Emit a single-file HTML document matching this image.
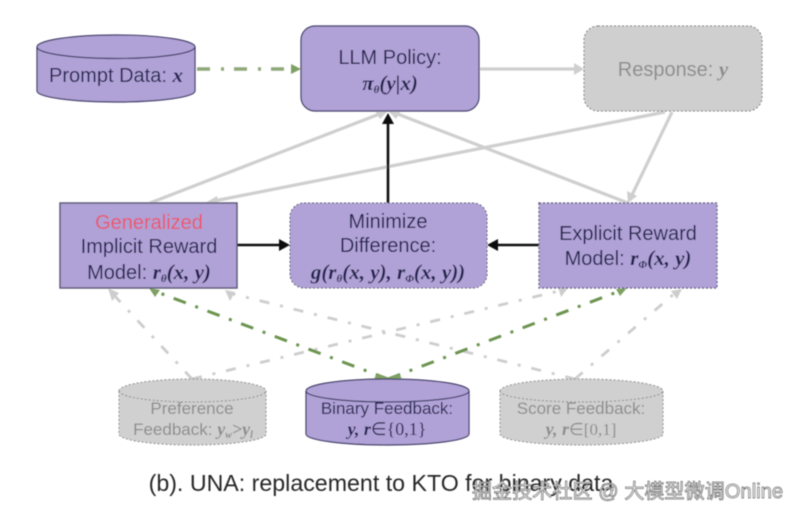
<!DOCTYPE html>
<html><head><meta charset="utf-8">
<style>
html,body{margin:0;padding:0;background:#fff;width:798px;height:517px;overflow:hidden}
svg{display:block}
text{font-family:"Liberation Sans",sans-serif;font-size:20px;text-anchor:middle;fill:#242050}
.m{font-family:"Liberation Serif",serif;font-weight:bold;font-style:italic;font-size:21px}
.g{fill:#8c8c8c}
.c{font-size:17px}
.c .m,.c.m{font-size:18px}
</style></head>
<body>
<svg width="798" height="517" viewBox="0 0 798 517" xmlns="http://www.w3.org/2000/svg">
<defs>
<filter id="b" x="-5%" y="-5%" width="110%" height="110%"><feGaussianBlur stdDeviation="0.55"/></filter>
</defs>
<g filter="url(#b)">
<!-- gray lines -->
<g stroke="#cfcfcf" stroke-width="3.2" fill="none">
<line x1="479" y1="69" x2="576" y2="69"/>
<line x1="150" y1="203" x2="382" y2="113"/>
<line x1="665" y1="112" x2="214" y2="201"/>
<line x1="672" y1="112" x2="632" y2="195"/>
<line x1="628" y1="203" x2="395" y2="113"/>
</g>
<g fill="#cfcfcf">
<polygon points="584,69 574,63 574,75"/>
<polygon points="628,203 627,191 637,196"/>
<polygon points="205,203 217,196 219,206"/>
<polygon points="388,111 375,111 380,119"/>
<polygon points="388,111 401,111 396,119"/>
</g>
<!-- gray dash-dot -->
<g stroke="#cdcdcd" stroke-width="2.8" fill="none" stroke-dasharray="10 11 3 11">
<line x1="192" y1="379" x2="112" y2="293"/>
<line x1="192" y1="379" x2="563" y2="290"/>
<line x1="575" y1="379" x2="229" y2="293"/>
<line x1="575" y1="379" x2="675" y2="293"/>
</g>
<g fill="#cdcdcd">
<polygon points="108,288 119,293 112,301"/>
<polygon points="225,290 235,292 230,301"/>
<polygon points="568,288 558,287 561,297"/>
<polygon points="682,289 671,291 677,299"/>
</g>
<!-- green dash-dot -->
<g stroke="#8fa878" stroke-width="3.6" fill="none" stroke-dasharray="13 11 3 10">
<line x1="197" y1="69" x2="294" y2="69"/>
</g>
<g stroke="#6c9450" stroke-width="3" fill="none" stroke-dasharray="13 10 3 10">
<line x1="388" y1="379" x2="157" y2="292"/>
<line x1="388" y1="379" x2="617" y2="292"/>
</g>
<g fill="#7fa063">
<polygon points="301,69 291,64 291,74"/>
<polygon points="149,288 160,290 155,297"/>
<polygon points="627,288 616,289 620,296"/>
<path d="M374,378 L388,382 L402,378 L398,374 L388,378 L378,374Z"/>
</g>
<!-- black -->
<g stroke="#111" stroke-width="2.6" fill="none">
<line x1="388" y1="203" x2="388" y2="120"/>
<line x1="237" y1="245" x2="282" y2="245"/>
<line x1="539" y1="245" x2="496" y2="245"/>
</g>
<g fill="#111">
<polygon points="388,113 382,124 394,124"/>
<polygon points="290,245 279,239 279,251"/>
<polygon points="487,245 498,239 498,251"/>
</g>
<!-- Prompt cylinder -->
<path d="M37,47 A79,12 0 0 1 195,47 V91 A79,11 0 0 1 37,91Z" fill="#b0a2d6" stroke="#3d3a66" stroke-width="1.2"/>
<path d="M37,47 A79,11.5 0 0 0 195,47" fill="none" stroke="#3d3a66" stroke-width="1.2"/>
<text x="116" y="82">Prompt Data: <tspan class="m">x</tspan></text>
<!-- LLM -->
<rect x="301" y="26" width="178" height="85" rx="14" fill="#b0a2d6" stroke="#3d3a66" stroke-width="1.2"/>
<text x="390" y="64">LLM Policy:</text>
<text x="390" y="90" class="m">π<tspan font-size="11" dy="3">θ</tspan><tspan dy="-3">(y|x)</tspan></text>
<!-- Response -->
<rect x="584" y="26" width="178" height="85" rx="14" fill="#cfcfcf" stroke="#777" stroke-width="1" stroke-dasharray="2 2"/>
<text x="673" y="76" class="g">Response: <tspan class="m" fill="#8c8c8c">y</tspan></text>
<!-- Left box -->
<rect x="60" y="203" width="177" height="85" fill="#b0a2d6" stroke="#55526f" stroke-width="1.4"/>
<text x="149" y="229" style="fill:#e8566f">Generalized</text>
<text x="149" y="253">Implicit Reward</text>
<text x="149" y="279">Model: <tspan class="m">r<tspan font-size="11" dy="3">θ</tspan><tspan dy="-3">(x, y)</tspan></tspan></text>
<!-- Mid box -->
<rect x="290" y="203" width="197" height="85" rx="14" fill="#b0a2d6" stroke="#55526f" stroke-width="1" stroke-dasharray="2 2"/>
<text x="388" y="228">Minimize</text>
<text x="388" y="252">Difference:</text>
<text x="388" y="279" class="m">g(r<tspan font-size="11" dy="3">θ</tspan><tspan dy="-3">(x, y), r</tspan><tspan font-size="11" dy="3">Φ</tspan><tspan dy="-3">(x, y))</tspan></text>
<!-- Right box -->
<rect x="539" y="203" width="178" height="85" fill="#b0a2d6" stroke="#55526f" stroke-width="1.2" stroke-dasharray="2 2"/>
<text x="628" y="240">Explicit Reward</text>
<text x="628" y="265">Model: <tspan class="m">r<tspan font-size="11" dy="3">Φ</tspan><tspan dy="-3">(x, y)</tspan></tspan></text>
<!-- Preference cylinder -->
<path d="M119,391 A73.5,12 0 0 1 266,391 V434 A73.5,11 0 0 1 119,434Z" fill="#d0d0d0" stroke="#888" stroke-width="1" stroke-dasharray="2 2"/>
<path d="M119,391 A73.5,11 0 0 0 266,391" fill="none" stroke="#888" stroke-width="1" stroke-dasharray="2 2"/>
<text x="192" y="414" class="g c">Preference</text>
<text x="193" y="435" class="g c">Feedback: <tspan class="m" fill="#8c8c8c">y<tspan font-size="10" dy="3">w</tspan><tspan dy="-3">&gt;y</tspan><tspan font-size="10" dy="3">l</tspan></tspan></text>
<!-- Binary cylinder -->
<path d="M306,391 A81.5,12 0 0 1 469,391 V434 A81.5,11 0 0 1 306,434Z" fill="#b0a2d6" stroke="#3d3a66" stroke-width="1.2"/>
<path d="M306,391 A81.5,11 0 0 0 469,391" fill="none" stroke="#3d3a66" stroke-width="1.2"/>
<text x="387" y="414" class="c">Binary Feedback:</text>
<text x="387" y="435" class="c m">y, r<tspan font-weight="normal" font-style="normal">∈{0,1}</tspan></text>
<!-- Score cylinder -->
<path d="M500,391 A81.5,12 0 0 1 663,391 V434 A81.5,11 0 0 1 500,434Z" fill="#d0d0d0" stroke="#888" stroke-width="1" stroke-dasharray="2 2"/>
<path d="M500,391 A81.5,11 0 0 0 663,391" fill="none" stroke="#888" stroke-width="1" stroke-dasharray="2 2"/>
<text x="581" y="414" class="g c">Score Feedback:</text>
<text x="581" y="435" class="g c"><tspan class="m" fill="#8c8c8c">y, r</tspan><tspan font-family="Liberation Serif">∈[0,1]</tspan></text>
<!-- caption -->
<text x="381" y="491" style="font-size:23.2px;fill:#262626">(b). UNA: replacement to KTO for binary data</text>
<!-- watermark -->
<text x="472" y="498" style="text-anchor:start;font-family:'Liberation Sans','Noto Sans CJK SC',sans-serif;font-size:20px;fill:#ececec;stroke:#666;stroke-width:0.7;letter-spacing:0.1px">掘金技术社区 @ 大模型微调Online</text>
</g>
</svg>
</body></html>
